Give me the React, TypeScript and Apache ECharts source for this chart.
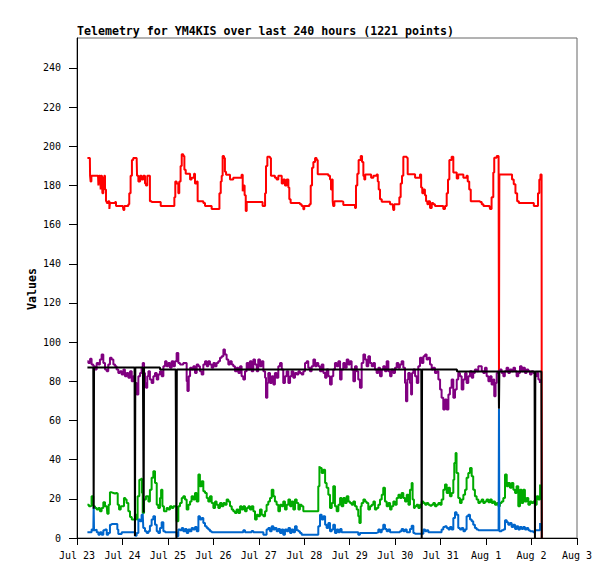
import React, { useEffect, useRef } from 'react';
import * as echarts from 'echarts';

// x values are hours since Jul 23 00:00
const xTickLabels = ['Jul 23', 'Jul 24', 'Jul 25', 'Jul 26', 'Jul 27', 'Jul 28', 'Jul 29', 'Jul 30', 'Jul 31', 'Aug 1', 'Aug 2', 'Aug 3'];
const yTickValues = [0, 20, 40, 60, 80, 100, 120, 140, 160, 180, 200, 220, 240];
const titleText = 'Telemetry for YM4KIS over last 240 hours (1221 points)';
const yName = 'Values';

const redSeries: [number, number][] = [
  [5.5,194],[6.8,194],[6.9,185],[7.2,182],[7.6,185],[11.1,185],[11.3,180],[11.6,185],[12.3,185],[12.5,178],[12.8,185],[13.2,185],[13.4,176],[13.9,184],[14.4,185],[14.8,178],[15.3,172],[15.7,171],[16.5,172],[17.1,168],[17.4,171],[20.1,171.5],[20.6,169.5],[24.2,169.5],[24.5,167.5],[25,169.5],[27.1,170.4],[27.6,176],[28.3,185],[29,193],[29.7,194],[31.5,194],[31.7,185],[32.4,182],[33.3,185],[34.1,183],[35,185],[35.9,181],[36.4,180],[37.1,185],[37.8,185],[38.5,172],[39.4,171.5],[43.8,171.5],[44.2,169.5],[50.9,169.5],[51.4,174],[51.9,182],[52.6,181],[53.5,176],[54,182],[54.7,190],[55.3,196],[56.1,195],[56.7,188],[57.4,186],[59.7,183],[60.5,184],[61.8,186],[62.3,181],[63.2,182],[63.7,172],[66.7,171],[67.6,169.5],[70.2,169.5],[71.1,168],[74.6,168],[75.2,176],[75.9,182],[76.4,185],[76.9,195],[77.6,194],[78.1,187],[78.7,185.5],[80.8,183],[82.5,184],[86.9,185.5],[87.5,177],[87.8,180],[88.5,175],[89.1,167],[89.6,171.5],[97.5,171.5],[98,169.5],[98.9,169.5],[99.3,176],[99.8,190],[100.5,194.7],[101.9,194],[102.4,185],[104.5,184],[105.4,183],[106.3,185],[108.1,181],[108.9,183],[109.8,180],[110.7,183],[111.6,179],[112.1,173],[112.8,171],[116.9,171],[117.7,170.4],[118.6,169.5],[119.5,167.8],[120,169.5],[122.1,169.5],[122.7,170.4],[123.4,180],[124.1,189],[124.8,192],[125.7,194],[126.5,193],[127.1,185.7],[132.7,185],[133.6,183],[134.1,178],[134.5,183],[135,172],[135.3,169.5],[135.9,172],[139.7,171.7],[140.6,170],[145.9,170],[146.8,168.5],[147.3,180],[148,186],[148.7,193],[149.8,195],[150.5,192],[151.2,184.8],[151.7,183],[152.2,185.6],[155.3,184],[156.5,185],[158.2,185.6],[158.8,182],[159.3,178],[160,173],[160.9,171.7],[164.4,171.7],[165.3,170.4],[166.7,170.4],[167,167.5],[167.5,170.4],[169.6,170.4],[170.2,174],[170.9,181],[171.6,185],[172.3,194.7],[174.1,194.2],[174.6,185.7],[178.5,184],[181.1,185.6],[181.7,179],[182.3,176],[182.9,178],[183.7,175],[184.3,172],[185,170.4],[185.5,172],[186.4,168.5],[187.3,171],[188.1,170.4],[189,169.5],[193.4,168],[194.3,169.5],[195.2,176],[195.9,183],[196.6,193],[197.8,194.7],[198.7,186.6],[200.5,183.5],[201.3,185.6],[204,184],[205.7,185],[206.3,182],[207.1,178],[207.9,172],[212.8,171.5],[213.7,170.4],[214.6,169.5],[217.8,169.5],[218.1,168],[218.9,174],[219.8,186.6],[220.3,194.2],[221.6,195],[222.6,193],[222.8,85],[223,185.6],[228.9,185.6],[229.7,183],[230.6,180.6],[231.5,176],[232.4,172],[233.3,171],[240.3,171],[241.2,169.5],[243,169.5],[243.4,176],[244.1,183],[244.7,185.6],[245.3,185.6],[245.4,0]
];

const purpleSeries: [number, number][] = [
  [5.5,90.3],[6,89.4],[6.9,91.5],[7.7,88.6],[8.6,87.7],[9.5,86],[10.4,89.4],[11.3,88.6],[12.1,91.1],[13,93.7],[13.9,89.4],[14.8,86],[15.7,85.2],[16.5,88.6],[17.4,92],[18.3,91.1],[19.2,88.6],[20.1,87.7],[20.9,86],[21.8,84.3],[22.7,85.2],[23.6,83.5],[24.5,86],[25.3,82.6],[26.2,84.3],[27.1,81.8],[28,85.2],[28.9,80.1],[29.7,82.6],[30.6,79.2],[31.5,73.3],[32.4,82.6],[33.3,84.3],[34.1,86.9],[34.7,89.4],[35.4,84.3],[35.9,79.2],[36.4,76.7],[37.1,82.6],[37.7,85.2],[38.5,80.9],[39.4,79.2],[40.3,82.6],[41.2,84.3],[42.1,80.9],[42.9,83.5],[43.8,85.2],[44.7,82.6],[45.6,87.7],[46.5,90.3],[47.3,87.7],[48.2,89.4],[49.1,86.9],[50,90.3],[50.9,87.7],[51.7,90.3],[52.6,94.5],[53.5,89.4],[54.4,88.6],[56.1,89.4],[57,89.4],[57.9,80.1],[58.3,75],[59,82.6],[59.7,86.9],[60.5,86],[61.4,87.7],[62.3,84.3],[63.2,88.6],[64.1,87.7],[64.9,85.2],[65.8,83.5],[66.7,88.6],[67.6,90.3],[68.5,87.7],[69.3,90.3],[70.2,88.6],[71.1,86.9],[72,89.4],[72.9,87.7],[73.7,89.4],[74.6,90.3],[75.5,92],[76.4,92.8],[77.3,96.3],[78.1,93.7],[79,91.1],[79.9,88.6],[80.8,90.3],[81.7,88.6],[82.5,87.7],[83.4,85.2],[84.3,86.9],[85.2,84.3],[86.1,87.7],[86.9,82.6],[87.8,80.9],[88.7,85.2],[89.6,89.4],[90.5,86],[91.3,90.3],[92.2,85.2],[93.1,91.1],[94,88.6],[94.9,85.2],[95.7,91.1],[96.6,87.7],[97.5,90.3],[98.4,85.2],[99.3,81.8],[99.8,71.6],[100.5,79.2],[101,84.3],[101.9,79.2],[102.8,82.6],[103.7,78.4],[104.5,84.3],[105.4,81.8],[106.3,87.7],[107.2,89.4],[108.1,86],[108.9,79.2],[109.8,82.6],[110.7,85.2],[111.6,79.2],[112.5,82.6],[113.3,85.2],[114.2,81.8],[115.1,84.3],[116,83.5],[116.9,85.2],[117.7,84.3],[118.6,83.5],[119.5,85.2],[120.4,89.4],[121.3,90.3],[122.1,86.9],[123,85.2],[123.9,87.7],[124.8,91.1],[125.7,87.7],[126.5,89.4],[127.4,87.7],
  [128.3,85.2],[129.2,88.6],[130.1,84.3],[131,81.8],[131.8,86],[132.7,82.6],[133.6,78.4],[134.5,82.6],[135.3,86],[136.2,89.4],[137.1,87.7],[138,90.3],[138.9,80.9],[139.7,86],[140.6,89.4],[141.5,86.9],[142.4,91.1],[143.3,88.6],[144.1,90.3],[145,86],[145.9,80.1],[146.8,87.7],[147.7,85.2],[148.5,80.9],[149.4,76.7],[150.3,89.4],[151.2,93.7],[152.1,91.1],[152.9,87.7],[153.8,92.8],[154.7,89.4],[155.6,87.7],[156.5,89.4],[157.3,86],[158.2,84.3],[159.1,86.9],[160,82.6],[160.9,86],[161.7,87.7],[162.6,85.2],[163.5,90.3],[164.4,85.2],[165.3,82.6],[166.1,86],[167,84.3],[167.9,86.9],[168.8,89.4],[169.7,86.9],[170.5,88.6],[171.4,90.3],[172.3,86.9],[173.2,79.2],[173.7,69.8],[174.4,80.9],[174.9,84.3],[175.8,79.2],[176.4,73.3],[176.9,84.3],[177.6,86],[178.5,82.6],[179.4,79.2],[180.2,87.7],[181.1,92],[182,89.4],[182.9,92.8],[183.8,93.7],[184.6,91.1],[185.5,92],[186.4,88.6],[187.3,86],[188.1,86.9],[189,84.3],[189.9,85.2],[190.8,80.9],[191.7,75.8],[192.5,71.6],[193.4,65.6],[194.3,70.7],[195.2,65.6],[196.1,73.3],[196.9,76.7],[197.8,80.9],[198.7,71.6],[199.6,75.8],[200.5,80.9],[201.3,84.3],[202.2,82.6],[203.1,75.8],[204,80.9],[204.9,84.3],[205.7,79.2],[206.6,82.6],[207.5,85.2],[208.4,81.8],[209.2,84.3],[210.1,86],[211,85.2],[211.9,87.7],[212.8,87.7],[213.7,85.2],[214.5,84.3],[215.4,86.9],[216.3,82.6],[217.2,80.1],[218.1,82.6],[218.9,78.4],[219.8,80.9],[220.3,72.4],[221,79.2],[221.6,84.3],[222.4,85.2],[223.3,86],[224.2,84.3],[225.1,82.6],[225.9,85.2],[226.8,86.9],[227.7,84.3],[228.6,86],[229.5,85.2],[230.4,86.9],[231.3,85.2],[232.1,82.6],[233,84.3],[233.9,87.7],[234.8,85.2],[235.6,86.9],[236.5,84.3],[237.4,86],[238.3,85.2],[239.2,83.5],[240,85.2],[240.9,84.3],[241.8,82.6],[242.7,84.3],[243.6,80.9],[244.4,79.2]
];

const greenSeries: [number, number][] = [
  [5.5,17],[6.3,16.2],[7.2,16.5],[7.7,21.3],[8.6,16.2],[9.5,15.3],[10.4,14.5],[11.3,15.3],[12.1,13.6],[13,15.3],[13.9,18.2],[14.8,16.2],[15.7,16.2],[16,12.4],[16.7,17],[17.4,23.3],[18.3,23],[19.2,22.7],[20.1,23],[20.9,22.7],[21.5,17],[22.2,14.5],[23.1,16.2],[23.9,16.2],[24.8,20.4],[25.5,19.6],[26.2,17.9],[27.1,13.6],[28,10.7],[28.9,9.4],[29.7,9.4],[30.6,11.9],[31.5,9.4],[32,21.3],[32.9,29.8],[33.8,30.2],[34.3,23],[34.7,12.8],[35.4,19.6],[36.4,21.3],[37.7,18.7],[38.5,24.7],[39.4,30.7],[40.3,34.1],[41.2,28.1],[42.1,17],[42.9,15.3],[43.8,20.4],[44.4,24.7],[45.1,16.2],[45.9,13.6],[47.3,15.3],[48.2,14.5],[49.1,16.2],[50,15.3],[50.9,16.2],[51.7,16.2],[52.6,8.5],[53.5,16.2],[54.4,17.9],[55.3,20.4],[56.1,21.3],[57,19.6],[57.9,14.5],[58.8,17],[59.7,18.7],[60.5,21.3],[61.4,19.6],[62.3,23],[63.2,18.7],[64.1,32.4],[64.9,26.4],[65.8,29],[66.7,23.9],[67.6,23],[68.5,20.4],[69.3,18.7],[70.2,21.3],[71.1,17.9],[72,15.3],[72.9,18.7],[73.7,17],[74.6,15.3],[75.5,17.9],[76.4,16.2],[77.3,17.9],[78.1,17],[79,19.6],[79.9,18.7],[80.8,16.2],[81.7,14.5],[82.5,13.6],[83.4,12.8],[84.3,14.5],[85.2,12.8],[86.1,16.2],[86.9,14.5],[87.8,16.2],[88.7,13.6],[89.6,15.3],[90.5,16.2],[91.3,14.5],[92.2,16.2],[93.1,13.6],[94,9.4],[94.9,11.9],[95.7,11.1],[96.6,14.5],[97.5,11.9],[98.4,11.1],[99.3,13.6],[100.1,17],[101,18.7],[101.9,20.4],[102.8,24.7],[103.7,21.3],[104.5,18.7],[105.4,17],[106.3,13.6],[107.2,17],[108.1,16.2],[108.9,18.7],[109.8,14.5],[110.7,17],[111.6,19.6],[112.5,16.2],[113.3,18.7],[114.2,14.5],[115.1,19.6],[116,17.9],[116.9,14.5],[117.7,17],[118.6,16.2],[119.5,13.6],[123,13.6],[126.5,13.6],[127.4,26.4],[128,36.6],
  [128.3,35.8],[129.2,33.2],[130.1,34.9],[131,28.1],[131.8,25.6],[132.7,22.1],[133.6,15.3],[134.5,17.9],[135.3,26.4],[136.2,16.2],[137.1,13.6],[138,17],[138.9,20.4],[139.7,16.2],[140.6,20.4],[141.5,17.9],[142.4,21.3],[143.3,18.7],[144.1,17.9],[145,17],[145.9,18.7],[146.8,16.2],[147.7,14.5],[148.5,11.1],[149.1,7.7],[149.8,16.2],[150.3,17.9],[151.2,19.6],[152.1,18.7],[152.9,17.9],[153.8,14.5],[154.7,16.2],[155.6,17],[156.5,18.7],[157.3,14.5],[158.2,15.3],[159.1,17],[160,19.6],[160.9,22.1],[161.7,25.6],[162.6,18.7],[163.5,16.2],[164.4,17.9],[165.3,14.5],[166.1,16.2],[167,18.7],[167.9,17],[168.8,20.4],[169.7,22.1],[170.5,20.4],[171.4,23],[172.3,20.4],[173.2,18.7],[174.1,22.1],[175,17],[175.8,24.7],[176.7,28.1],[177.2,19.6],[177.9,15.3],[178.4,16.2],[179.3,17],[180.2,15.3],[181.1,17],[182,18.7],[182.9,17.9],[183.8,17],[184.6,17.9],[185.5,17],[186.4,16.5],[187.3,17],[188.1,17.9],[189,16.2],[189.9,17],[190.8,17.9],[191.7,17],[192.5,19.6],[193.4,24.7],[194.3,27.3],[195.2,23],[196.1,25.6],[196.9,21.3],[197.8,23],[198.7,29.8],[199.2,38.3],[199.9,43.4],[200.4,33.2],[201.3,20.4],[202.2,17.9],[203.1,19.6],[204,22.1],[204.9,24.7],[205.7,30.7],[206.6,33.2],[207.5,35.8],[208.4,31.5],[209.2,24.7],[210.1,21.3],[211,19.6],[211.9,17.9],[212.8,18.7],[213.7,19.6],[214.5,17.9],[215.4,18.7],[216.3,19.6],[217.2,18.2],[218.1,19.6],[219,17.9],[219.8,18.7],[220.7,17],[221.6,17.9],[222.5,16.2],[223.3,17.9],[224.2,18.7],[225.1,20.4],[226,32.4],[226.9,26.4],[227.7,28.1],[228.6,25.6],[229.5,28.1],[230.4,24.7],[231.3,23],[232.1,26.4],[233,16.2],[233.9,24.7],[234.8,17.9],[235.6,24.7],[236.5,18.7],[237.4,20.4],[238.3,17],[239.2,18.7],[240,17.9],[240.9,18.7],[241.8,17],[242.7,21.3],[243.6,19.6],[244.5,27.3]
];

const blueSeries: [number, number][] = [
  [5.5,2.9],[6.9,2.9],[7.7,4.3],[8.6,3.4],[8.8,16],[9,4],[9.5,4.3],[10.4,2.9],[11.3,1.7],[12.1,2.9],[13,1.7],[13.9,3.9],[14.8,4.3],[15.7,1.7],[16.5,2.6],[17.4,6.8],[18.3,7.2],[20.1,7.2],[20.9,7.2],[21.3,4.3],[21.8,2],[23.6,2.9],[26.2,2.9],[28.9,2.9],[30.6,1.2],[31.5,2.6],[32.4,9.4],[33.3,8.5],[34.1,11.9],[34.7,12.5],[35,5.1],[35.9,3.4],[36.8,2.6],[37.7,3.4],[38.5,6.3],[39.4,9.4],[40.3,11.1],[41.2,6.8],[42.1,3.4],[42.9,2.6],[43.8,5.1],[44.7,8],[45.6,3.4],[46.5,2.9],[51.7,2.9],[52.6,0.9],[53.5,4.3],[54.4,3.9],[55.3,5.1],[56.1,3.4],[57,4.6],[57.9,2.6],[58.8,4.3],[59.7,3.4],[60.5,5.1],[61.4,4.3],[62.3,5.6],[63.2,3.4],[64.1,11.1],[64.9,9.4],[65.8,10.2],[66.7,7.7],[67.6,6],[68.5,5.1],[69.3,4.3],[70.2,3.4],[71.1,2.9],[79,2.9],[87.8,3.9],[88.7,2.9],[92.2,3.6],[93.1,2.9],[98.4,1.7],[100.1,4.3],[101,5.1],[101.9,3.4],[102.8,6],[103.7,4.3],[104.5,5.1],[105.4,3.4],[106.3,4.6],[107.2,2.6],[108.1,4.3],[108.9,1.7],[109.8,4.3],[110.7,3.4],[111.6,5.1],[112.5,2.6],[113.3,4.3],[114.2,2.9],[115.1,6],[116,3.9],[116.9,3.4],[117.7,2.6],[118.6,1.7],[126.5,1.7],[127.4,6],[128.3,11.9],
  [129.2,9.4],[130.1,11.1],[131,6.8],[131.8,5.1],[132.7,7.7],[133.6,3.4],[134.5,4.3],[135.3,6.8],[136.2,2.6],[137.1,4.3],[138,2.9],[138.9,4.6],[139.7,2.9],[147.7,2.9],[148.5,1.7],[149.4,2.6],[158.2,2.9],[159.1,4.3],[160,2.9],[160.9,4.3],[161.7,6.8],[162.6,4.6],[163.5,3.4],[164.4,4.3],[165.3,2.9],[170.5,3.4],[171.4,4.6],[172.3,3.4],[173.2,4.3],[174.1,2.9],[175.8,4.6],[176.7,6.3],[177.6,2.6],[178.4,2.2],[182,2.2],[182.9,4.3],[183.8,3.4],[184.6,3.9],[185.5,2.9],[191.7,2.9],[192.5,4.3],[193.4,5.6],[194.3,6],[195.2,5.1],[196.1,4.3],[196.9,5.6],[197.8,4.3],[198.7,10.2],[199.6,13.1],[200.4,11.9],[201.3,5.1],[202.2,4.3],[203.1,5.1],[204,3.4],[204.9,4.3],[205.7,11.1],[206.6,11.9],[207.5,9.4],[208.4,8.5],[209.2,6.8],[210.1,5.1],[211,4.3],[211.9,3.9],[222.6,3.9],[222.8,66],[223,3.5],[223.3,3.4],[224.2,3.9],[225.1,4.3],[226,9],[226.9,8],[227.7,6.8],[228.6,7.7],[229.5,5.6],[230.4,6.8],[231.3,4.6],[232.1,6],[233,4.3],[233.9,5.6],[234.8,4.6],[235.6,5.6],[236.5,4.3],[237.4,5.1],[238.3,3.9],[239.2,3.4],[240.9,2.9],[241.8,3.9],[243.6,3.9],[244.5,7.7]
];

const blackSeries: [number, number][] = [
  [5.5,87],[8.6,87],[8.8,15],[9,87],[30.4,87],[30.6,1],[30.8,87],[34.8,87],[35,50],[35.2,13],[35.4,87],[43.8,87],[43.9,86],[52.1,86],[52.3,44],[52.5,0],[52.7,86],[181.8,86],[182,0],[182.2,86],[200.6,86],[200.7,85],[222.6,85],[222.8,66],[223,85],[241.6,85],[241.8,0],[242,85],[245.2,85],[245.4,0]
];

const seriesList = [
  { name: 'red', color: '#ff0000', data: redSeries },
  { name: 'purple', color: '#800080', data: purpleSeries },
  { name: 'green', color: '#00aa00', data: greenSeries },
  { name: 'blue', color: '#0066cc', data: blueSeries },
  { name: 'black', color: '#000000', data: blackSeries },
];

const FONT = 'DejaVu Sans Mono';

export default function App() {
  const ref = useRef<HTMLDivElement>(null);
  useEffect(() => {
    if (!ref.current) return;
    const chart = echarts.init(ref.current, null, { renderer: 'svg' });
    const xTicks = xTickLabels.map((_, i) => i * 24);
    chart.setOption({
      animation: false,
      backgroundColor: '#ffffff',
      title: {
        text: titleText,
        left: 77,
        top: 25,
        padding: 0,
        textStyle: { fontFamily: FONT, fontSize: 11.6, fontWeight: 'bold', color: '#000' },
      },
      grid: {
        left: 77, top: 38, width: 500, height: 500,
        show: true, borderColor: '#666666', borderWidth: 1, backgroundColor: 'transparent',
      },
      xAxis: {
        type: 'value',
        min: 0,
        max: 264,
        axisLine: { show: true, lineStyle: { color: '#000', width: 1 } },
        axisTick: { show: true, length: 7, lineStyle: { color: '#000' }, customValues: xTicks },
        axisLabel: {
          customValues: xTicks,
          margin: 12,
          fontFamily: FONT, fontSize: 10, color: '#000',
          formatter: (v: number) => xTickLabels[Math.round(v / 24)] ?? '',
        },
        splitLine: { show: false },
      },
      yAxis: {
        type: 'value',
        min: 0,
        max: 255.3,
        axisLine: { show: true, lineStyle: { color: '#000', width: 1 } },
        axisTick: { show: true, length: 8, lineStyle: { color: '#000' }, customValues: yTickValues },
        axisLabel: {
          customValues: yTickValues,
          margin: 16,
          fontFamily: FONT, fontSize: 10, color: '#000',
        },
        splitLine: { show: false },
      },
      graphic: [
        {
          type: 'text',
          x: 31.5,
          y: 289,
          rotation: Math.PI / 2,
          style: {
            text: yName,
            fontFamily: FONT, fontSize: 11.6, fontWeight: 'bold', fill: '#000',
            align: 'center', verticalAlign: 'middle',
          },
        },
      ],
      series: seriesList.map((s) => ({
        name: s.name,
        type: 'line',
        data: s.data,
        step: 'end',
        showSymbol: false,
        symbol: 'none',
        silent: true,
        lineStyle: { color: s.color, width: 2 },
        itemStyle: { color: s.color },
        emphasis: { disabled: true },
      })),
    });
    return () => chart.dispose();
  }, []);
  return (
    <div
      ref={ref}
      style={{ position: 'absolute', left: 0, top: 0, width: 615, height: 579, background: '#fff' }}
    />
  );
}
